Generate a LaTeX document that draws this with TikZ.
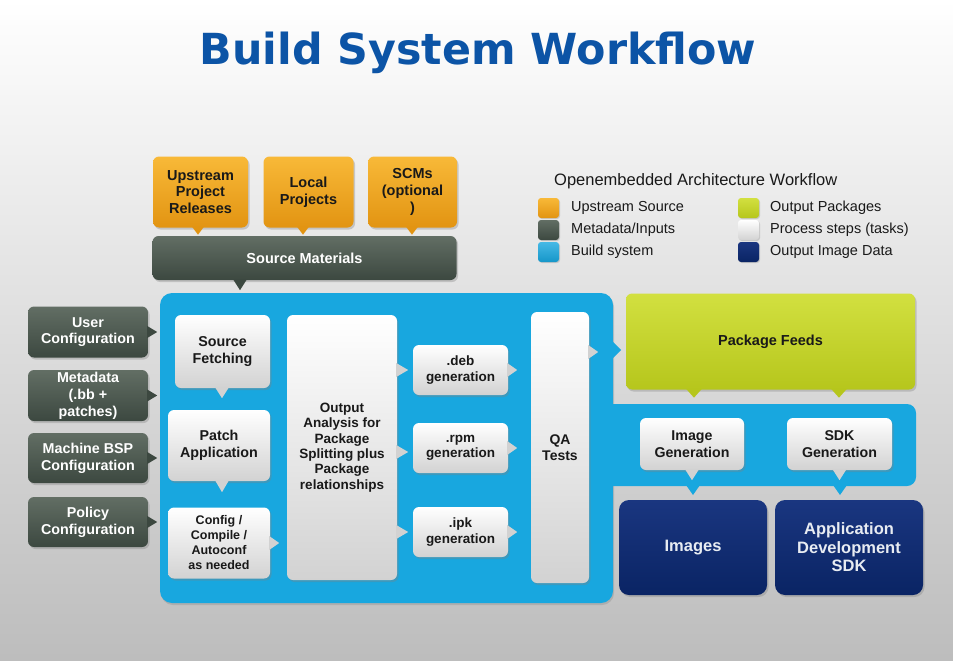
\documentclass[tikz,border=0pt]{standalone}
\usepackage{fontspec}
\setmainfont{Liberation Sans}
\newfontfamily\headfont{DejaVu Sans}
\usetikzlibrary{shadows,calc}

\definecolor{orangeT}{RGB}{248,185,56}
\definecolor{orangeB}{RGB}{226,148,18}
\definecolor{slateT}{RGB}{98,110,100}
\definecolor{slateB}{RGB}{60,72,64}
\definecolor{paleT}{RGB}{255,255,255}
\definecolor{paleB}{RGB}{210,210,210}
\definecolor{limeT}{RGB}{210,224,64}
\definecolor{limeB}{RGB}{182,198,28}
\definecolor{navyT}{RGB}{26,54,128}
\definecolor{navyB}{RGB}{10,36,100}
\definecolor{bsys}{RGB}{24,167,223}
\definecolor{titleblue}{RGB}{12,84,166}
\definecolor{ink}{RGB}{25,25,25}
\definecolor{paper}{RGB}{232,236,242}

% little callout tips: anchor, half width, length, colour
\newcommand\tipS[4]{\fill[#4] (#1) ++(-#2,-1) -- ++(2*#2,0) -- ++(-#2,#3+1) -- cycle;}
\newcommand\tipE[4]{\fill[#4] (#1) ++(-1,-#2) -- ++(0,2*#2) -- ++(#3+1,-#2) -- cycle;}

\tikzset{
  x=1pt, y=-1pt,
  card/.style={rounded corners=6pt, align=center, inner sep=1pt,
    drop shadow={opacity=.35, shadow xshift=1.5pt, shadow yshift=-2pt}},
  srcbox/.style={card, top color=orangeT, bottom color=orangeB, text=ink,
    font=\bfseries\fontsize{14.5}{16.7}\selectfont},
  metabox/.style={card, top color=slateT, bottom color=slateB, text=white,
    font=\bfseries\fontsize{14.3}{16.8}\selectfont},
  stepbox/.style={card, top color=paleT, bottom color=paleB, text=ink,
    font=\bfseries\fontsize{13.5}{15.3}\selectfont},
  pkgbox/.style={card, top color=limeT, bottom color=limeB, text=ink,
    font=\bfseries\fontsize{14.5}{17}\selectfont},
  imgbox/.style={card, rounded corners=10pt, top color=navyT, bottom color=navyB,
    text=paper, font=\bfseries\fontsize{16.5}{18.5}\selectfont},
  swatch/.style={rounded corners=3pt, minimum width=21pt, minimum height=20pt,
    inner sep=0pt, drop shadow={opacity=.3, shadow xshift=1pt, shadow yshift=-1pt}},
  legtext/.style={anchor=west, inner sep=0pt, text=ink,
    font=\fontsize{14.5}{17}\selectfont},
}

\begin{document}
\begin{tikzpicture}
% page background
\useasboundingbox (0,0) rectangle (953,661);
\shade[top color=white, middle color=white!94!black, bottom color=white!74!black]
  (0,0) rectangle (953,661);

% title
\node[text=titleblue, font=\headfont\bfseries\fontsize{42.8}{46}\selectfont]
  (title) at (478,53) {Build System Workflow};

% build system area
\begin{scope}
  \fill[bsys, rounded corners=12pt,
    drop shadow={opacity=.3, shadow xshift=1pt, shadow yshift=-2pt}]
    (160,293) rectangle (613,603);
  \fill[bsys, rounded corners=9pt] (598,404) rectangle (916,486);
  \fill[bsys] (603,404) rectangle (618,486);
  \fill[bsys] (612,341) -- (621,350) -- (612,359) -- cycle;
\end{scope}

% upstream sources
\node[srcbox, minimum width=95pt, minimum height=71pt] (up)  at (200.5,192) {Upstream\\Project\\Releases};
\node[srcbox, minimum width=90pt, minimum height=71pt] (loc) at (308.5,192) {Local\\Projects};
\node[srcbox, minimum width=89pt, minimum height=71pt] (scm) at (412.5,192) {SCMs\\(optional\\)};
\node[metabox, font=\bfseries\fontsize{14.5}{17}\selectfont,
  minimum width=304pt, minimum height=44pt] (sm) at (304.5,258) {Source Materials};
\tipS{198,0 |- up.south}{6}{7}{orangeB}
\tipS{303,0 |- loc.south}{6}{7}{orangeB}
\tipS{412,0 |- scm.south}{6}{7}{orangeB}
\tipS{240,0 |- sm.south}{7}{10}{slateB}

% legend
\node[anchor=west, inner sep=0pt, text=ink, font=\fontsize{16.5}{19}\selectfont]
  (legtitle) at (554,181) {Openembedded Architecture Workflow};
\node[swatch, top color=orangeT, bottom color=orangeB] (lg1) at (548.5,208) {};
\node[swatch, top color=slateT, bottom color=slateB]   (lg2) at (548.5,230) {};
\node[swatch, top color=bsys!80!white, bottom color=bsys!90!black] (lg3) at (548.5,252) {};
\node[swatch, top color=limeT, bottom color=limeB]     (lg4) at (748.5,208) {};
\node[swatch, top color=paleT, bottom color=paleB]     (lg5) at (748.5,230) {};
\node[swatch, top color=navyT, bottom color=navyB]     (lg6) at (748.5,252) {};
\node[legtext] (lt1) at (571,208) {Upstream Source};
\node[legtext] (lt2) at (571,230) {Metadata/Inputs};
\node[legtext] (lt3) at (571,252) {Build system};
\node[legtext] (lt4) at (770,208) {Output Packages};
\node[legtext] (lt5) at (770,230) {Process steps (tasks)};
\node[legtext] (lt6) at (770,252) {Output Image Data};

% metadata inputs
\node[metabox, minimum width=120pt, minimum height=51pt] (user) at (88,332) {User\\Configuration};
\node[metabox, minimum width=120pt, minimum height=51pt] (meta) at (88,395.5) {Metadata\\(.bb +\\patches)};
\node[metabox, minimum width=120pt, minimum height=50pt] (bsp)  at (88,458) {Machine BSP\\Configuration};
\node[metabox, minimum width=120pt, minimum height=50pt] (pol)  at (88,522) {Policy\\Configuration};
\tipE{user.east}{6}{9}{slateB}
\tipE{meta.east}{6}{9}{slateB}
\tipE{bsp.east}{6}{9}{slateB}
\tipE{pol.east}{6}{9}{slateB}

% process steps
\node[stepbox, font=\bfseries\fontsize{14.3}{16.5}\selectfont,
  minimum width=95pt, minimum height=73pt] (fetch) at (222.5,351.5) {Source\\Fetching};
\node[stepbox, font=\bfseries\fontsize{14.3}{16.5}\selectfont,
  minimum width=102pt, minimum height=71pt] (patch) at (219,445.5) {Patch\\Application};
\node[stepbox, font=\bfseries\fontsize{12.5}{15}\selectfont,
  minimum width=102pt, minimum height=71pt] (conf) at (219,543) {Config /\\Compile /\\Autoconf\\as needed};
\tipS{222,0 |- fetch.south}{7}{10}{paleB}
\tipS{222,0 |- patch.south}{7}{11}{paleB}
\tipE{conf.east}{7}{9}{paleB}

\node[stepbox, minimum width=110pt, minimum height=265pt] (split) at (342,447.5)
  {Output\\Analysis for\\Package\\Splitting plus\\Package\\relationships};
\tipE{split.east |- 0,370}{7}{11}{paleB}
\tipE{split.east |- 0,452}{7}{11}{paleB}
\tipE{split.east |- 0,532}{7}{11}{paleB}

\node[stepbox, minimum width=95pt, minimum height=50pt] (deb) at (460.5,370) {.deb\\generation};
\node[stepbox, minimum width=95pt, minimum height=50pt] (rpm) at (460.5,448) {.rpm\\generation};
\node[stepbox, minimum width=95pt, minimum height=50pt] (ipk) at (460.5,532) {.ipk\\generation};
\tipE{deb.east}{7}{9}{paleB}
\tipE{rpm.east}{7}{9}{paleB}
\tipE{ipk.east}{7}{9}{paleB}

\node[stepbox, font=\bfseries\fontsize{14}{15.5}\selectfont,
  minimum width=58pt, minimum height=271pt] (qa) at (560,447.5) {QA\\Tests};
\tipE{qa.east |- 0,352}{7}{9}{paleB}

% outputs
\node[pkgbox, minimum width=289pt, minimum height=96pt] (feeds) at (770.5,341.5) {Package Feeds};
\tipS{694,0 |- feeds.south}{8}{8}{limeB}
\tipS{839,0 |- feeds.south}{8}{8}{limeB}

\node[stepbox, font=\bfseries\fontsize{14.2}{16.7}\selectfont,
  minimum width=104pt, minimum height=52pt] (imggen) at (692,444) {Image\\Generation};
\node[stepbox, font=\bfseries\fontsize{14.2}{16.7}\selectfont,
  minimum width=105pt, minimum height=52pt] (sdkgen) at (839.5,444) {SDK\\Generation};
\tipS{imggen.south}{7}{10}{paleB}
\tipS{sdkgen.south}{7}{10}{paleB}
\fill[bsys] (686,485) -- (700,485) -- (693,495) -- cycle;
\fill[bsys] (833,485) -- (847,485) -- (840,495) -- cycle;

\node[imgbox, minimum width=148pt, minimum height=95pt] (images) at (693,547.5) {Images};
\node[imgbox, minimum width=148pt, minimum height=95pt] (sdk) at (849,547.5)
  {Application\\Development\\SDK};
\end{tikzpicture}
\end{document}
